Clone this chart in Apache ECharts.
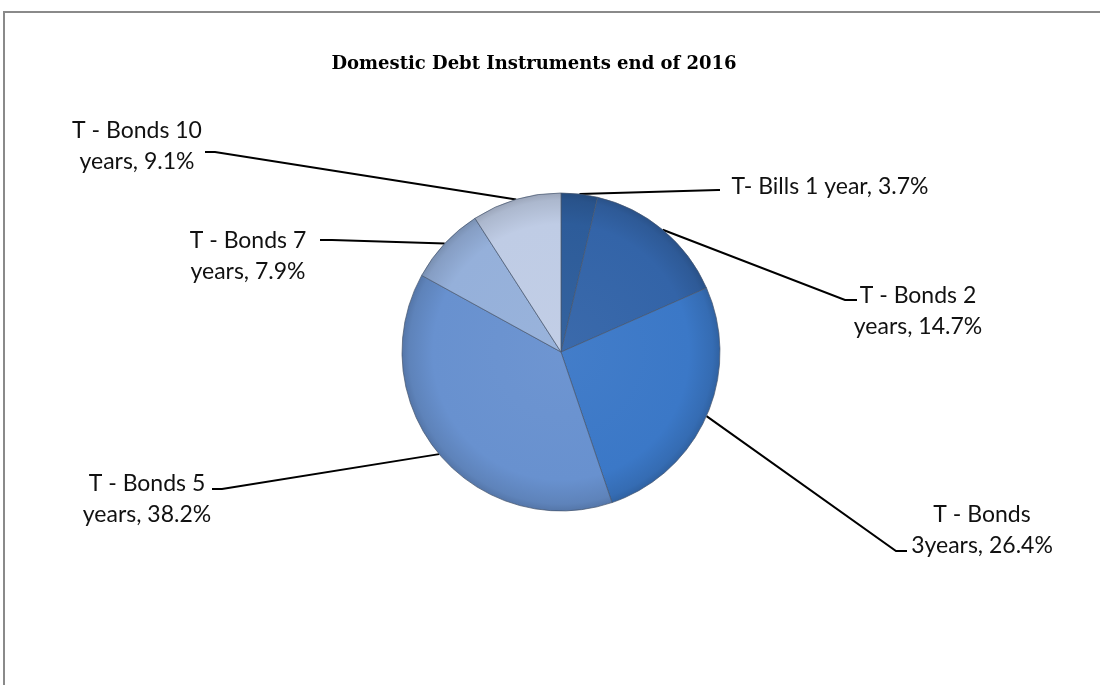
<!DOCTYPE html>
<html>
<head>
<meta charset="utf-8">
<script src="https://cdn.jsdelivr.net/npm/echarts@6/dist/echarts.min.js"></script>
<style>
html,body{margin:0;padding:0;background:#fff;}
#chart{width:1100px;height:685px;}
</style>
</head>
<body>
<div id="chart"></div>
<script>
// ---- data ----
var categories = ['T- Bills 1 year', 'T - Bonds 2\nyears', 'T - Bonds\n3years', 'T - Bonds 5\nyears', 'T - Bonds 7\nyears', 'T - Bonds 10\nyears'];
var values = [3.7, 14.7, 26.4, 38.2, 7.9, 9.1];
var titleText = 'Domestic Debt Instruments end of 2016';

// ---- styling / layout (not data) ----
var colors = ['#2D5C9A', '#3364A8', '#3B78C7', '#6891CF', '#95B0DA', '#BFCCE5'];
// label centre positions and leader-line elbow/end points
var labelPos = [
  {x: 830, y: 187, elbow: [718, 190], end: [720, 190]},
  {x: 918, y: 311, elbow: [845, 300], end: [857, 300]},
  {x: 982, y: 530, elbow: [896, 551], end: [907, 551]},
  {x: 147, y: 499, elbow: [222, 489], end: [212, 489]},
  {x: 248, y: 256, elbow: [332, 240], end: [320, 240]},
  {x: 137, y: 146, elbow: [215, 152], end: [205, 152]}
];

function shade(hex, f) {
  var n = parseInt(hex.slice(1), 16);
  var r = (n >> 16) & 255, g = (n >> 8) & 255, b = n & 255;
  function c(v) { v = f < 0 ? v * (1 + f) : v + (255 - v) * f; return Math.max(0, Math.min(255, Math.round(v))); }
  return 'rgb(' + c(r) + ',' + c(g) + ',' + c(b) + ')';
}

var seriesData = categories.map(function (name, i) {
  return {
    name: name,
    value: values[i],
    itemStyle: {
      color: {
        type: 'radial', x: 561, y: 352, r: 160, global: true,
        colorStops: [
          {offset: 0, color: shade(colors[i], 0.04)},
          {offset: 0.8, color: colors[i]},
          {offset: 0.95, color: shade(colors[i], -0.1)},
          {offset: 1, color: shade(colors[i], -0.2)}
        ]
      }
    }
  };
});

var chart = echarts.init(document.getElementById('chart'));
chart.setOption({
  backgroundColor: '#ffffff',
  animation: false,
  title: {
    text: titleText,
    left: 529, top: 50,
    textAlign: 'center',
    textStyle: {fontFamily: '"DejaVu Serif", serif', fontWeight: 'bold', fontSize: 18, color: '#000'}
  },
  graphic: [{
    type: 'rect',
    shape: {x: 4, y: 12, width: 1200, height: 800},
    style: {fill: 'none', stroke: '#8a8a8a', lineWidth: 2},
    silent: true
  }],
  series: [{
    type: 'pie',
    center: [561, 352],
    radius: [0, 159],
    startAngle: 90,
    clockwise: true,
    data: seriesData,
    itemStyle: {borderColor: 'rgba(70,85,110,0.7)', borderWidth: 1},
    label: {
      show: true,
      formatter: function (p) { return p.name + ', ' + p.value.toFixed(1) + '%'; },
      fontFamily: 'Lato, "Open Sans", sans-serif',
      fontSize: 23,
      lineHeight: 31,
      color: '#111',
      align: 'center'
    },
    labelLine: {show: true, lineStyle: {color: '#000', width: 2}},
    labelLayout: function (params) {
      var lp = labelPos[params.dataIndex];
      var start = params.labelLinePoints ? params.labelLinePoints[0] : lp.elbow;
      return {
        x: lp.x, y: lp.y,
        align: 'center', verticalAlign: 'middle',
        labelLinePoints: [start, lp.elbow, lp.end]
      };
    },
    emphasis: {disabled: true}
  }]
});
</script>
</body>
</html>
